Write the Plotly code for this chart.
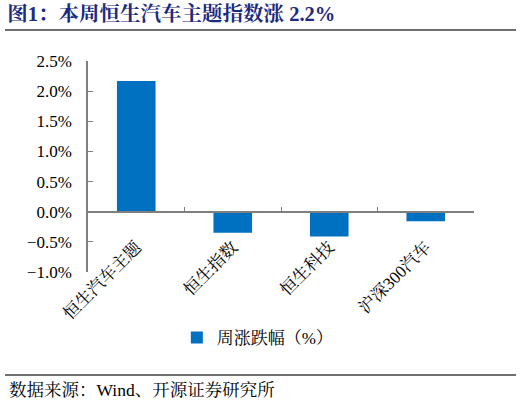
import plotly.graph_objects as go

# data
categories = ["恒生汽车主题", "恒生指数", "恒生科技", "沪深300汽车"]
weekly_change = [2.17, -0.35, -0.41, -0.16]
series_name = "周涨跌幅（%）"

y_min, y_max = -1.0, 2.5
font_family = "Liberation Serif, Noto Serif CJK SC, Noto Sans CJK SC"

fig = go.Figure()
fig.add_trace(go.Bar(
    x=categories,
    y=weekly_change,
    name=series_name,
    marker=dict(color="#0070C0", line=dict(width=0)),
    width=0.4,
    showlegend=True,
))

fig.update_layout(
    width=522, height=405,
    margin=dict(l=88, r=48, t=61, b=133),
    paper_bgcolor="white",
    plot_bgcolor="white",
    font=dict(family=font_family, color="black", size=15),
    title=dict(
        text="<b>图1：本周恒生汽车主题指数涨 2.2%</b>",
        x=0.014, xanchor="left", xref="container",
        y=0.965, yanchor="middle", yref="container",
        font=dict(size=20.5, color="#1C2A80", family=font_family),
    ),
    showlegend=True,
    legend=dict(
        orientation="h",
        x=0.44, xanchor="center",
        y=-0.313, yanchor="middle",
        font=dict(size=17),
        itemwidth=30,
    ),
    bargap=0.6,
)

fig.update_xaxes(
    type="category",
    anchor="free",
    position=(0 - y_min) / (y_max - y_min),
    showline=True, linecolor="#7F7F7F", linewidth=1.5,
    ticks="inside", ticklen=4, tickcolor="#7F7F7F", tickson="boundaries",
    tickangle=-45,
    ticklabelstandoff=18,
    tickfont=dict(size=17),
    showgrid=False, zeroline=False,
)

fig.update_yaxes(
    range=[y_min, y_max],
    dtick=0.5,
    tickformat=".1f", ticksuffix="%",
    showline=True, linecolor="#7F7F7F", linewidth=1.5,
    ticks="inside", ticklen=5, tickcolor="#7F7F7F",
    ticklabelstandoff=11,
    tickfont=dict(size=17),
    showgrid=False, zeroline=False,
)

# header rule and source rule
fig.add_shape(type="line", xref="paper", yref="paper",
              x0=(5 - 88) / 386, x1=(516 - 88) / 386, y0=(272 - 30) / 211, y1=(272 - 30) / 211,
              line=dict(color="#404040", width=1.5))
fig.add_shape(type="line", xref="paper", yref="paper",
              x0=(5 - 88) / 386, x1=(516 - 88) / 386, y0=(272 - 375) / 211, y1=(272 - 375) / 211,
              line=dict(color="#404040", width=1.5))

fig.add_annotation(
    text="数据来源：Wind、开源证券研究所",
    xref="paper", yref="paper",
    x=(7 - 88) / 386, xanchor="left",
    y=(272 - 390) / 211, yanchor="middle",
    showarrow=False,
    font=dict(size=17.5, color="black"),
)

fig.write_html("out.html", config={"displayModeBar": False},
               post_script="document.body.style.margin='0';")
